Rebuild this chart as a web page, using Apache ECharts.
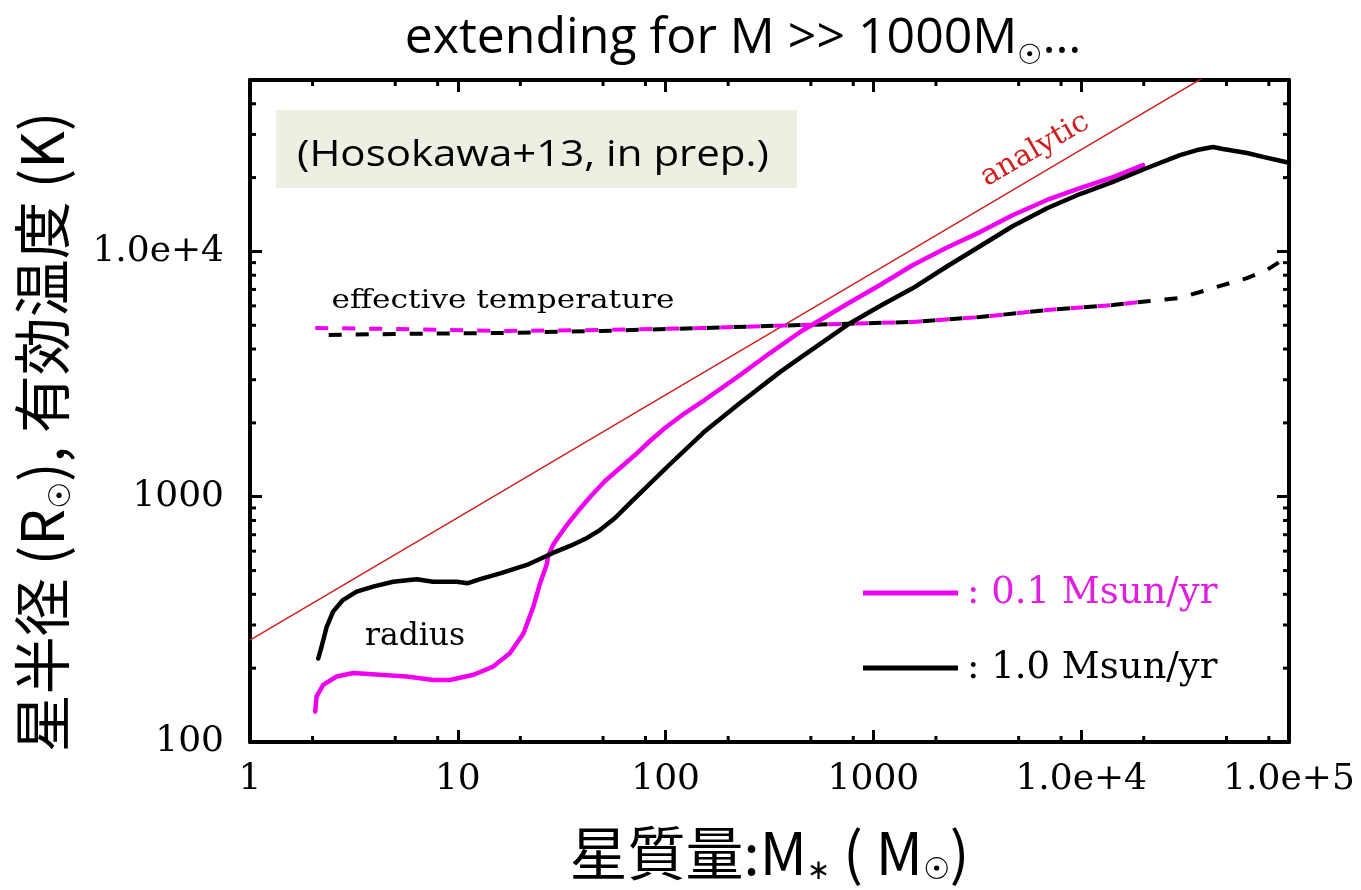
<!DOCTYPE html>
<html><head><meta charset="utf-8">
<script src="https://cdn.jsdelivr.net/npm/echarts@6/dist/echarts.min.js"></script>
<style>html,body{margin:0;padding:0;background:#fff}#c{width:1361px;height:890px}</style>
</head><body><div id="c"></div>
<script>
// ---- data ----
const analyticMass   = [1, 10, 100, 1000, 10000, 100000];
const analyticRadius = [260, 822, 2600, 8220, 26000, 82200];

const radiusMass01 = [2.06, 2.09, 2.25, 2.61, 3.14, 4.22, 5.68, 7.62, 9.17, 11.9, 14.8, 17.8, 20.7, 23.1, 24.9, 26.8, 27.2, 28.7, 30.7, 33.5, 37.9, 43.3, 51.1, 60.3, 71.2, 84.1, 99.3, 124, 154, 228, 318, 444, 747, 1076, 1551, 2236, 3258, 4696, 6845, 9867, 14220, 19830];
const radius01     = [133, 153, 171, 185, 191, 188, 185, 179, 179, 188, 203, 230, 277, 356, 444, 530, 573, 635, 692, 767, 874, 997, 1159, 1309, 1479, 1687, 1905, 2194, 2479, 3134, 3853, 4693, 6105, 7295, 8805, 10320, 11990, 14080, 16210, 18130, 20110, 22500];

const radiusMass10 = [2.13, 2.21, 2.34, 2.51, 2.80, 3.26, 3.91, 4.88, 6.34, 7.60, 9.88, 11.2, 12.8, 16.0, 21.5, 28.7, 34.7, 40.9, 48.3, 57.1, 69.7, 104, 153, 228, 355, 444, 747, 1076, 1551, 2236, 3258, 4696, 6845, 9867, 14220, 20730, 29890, 36080, 43090, 48130, 62800, 74980, 100000];
const radius10     = [219, 245, 295, 340, 379, 410, 430, 450, 461, 450, 450, 444, 461, 487, 527, 590, 630, 672, 731, 819, 969, 1347, 1835, 2410, 3220, 3680, 5010, 5991, 7090, 8640, 10500, 12700, 15000, 17140, 19200, 21880, 24700, 25900, 26650, 26150, 25200, 24300, 23000];

const teffMass01 = [2.06, 5.27, 16.0, 48.3, 146, 444, 1550, 3260, 6850, 14200, 21400];
const teff01     = [4870, 4830, 4740, 4780, 4870, 5010, 5160, 5400, 5770, 6050, 6280];

const teffMass10 = [2.06, 5.27, 16.0, 48.3, 146, 444, 1550, 3260, 6850, 14200, 21400, 29900, 43100, 62800, 78300, 100000];
const teff10     = [4560, 4610, 4650, 4740, 4870, 5010, 5160, 5400, 5770, 6050, 6280, 6460, 7090, 7790, 8400, 9600];

const xTickValues = [1, 10, 100, 1000, 10000, 100000];
const xTickLabels = ['1', '10', '100', '1000', '1.0e+4', '1.0e+5'];
const yTickValues = [100, 1000, 10000];
const yTickLabels = ['100', '1000', '1.0e+4'];
const xMinorTicks = [2, 5, 8, 20, 50, 80, 200, 500, 800, 2000, 5000, 8000, 20000, 50000, 80000];
const yMinorTicks = [200, 300, 400, 500, 600, 700, 800, 900, 2000, 3000, 4000, 5000, 6000, 7000, 8000, 9000, 20000, 30000, 40000];

const legendNames = [': 0.1 Msun/yr', ': 1.0 Msun/yr'];

// ---- helpers ----
const zip = (xs, ys) => xs.map((x, i) => [x, ys[i]]);
function tickLabel(values, labels) {
  return function (v) {
    for (let i = 0; i < values.length; i++) {
      if (Math.abs(Math.log10(v) - Math.log10(values[i])) < 1e-6) return labels[i];
    }
    return '';
  };
}
const mctx = document.createElement('canvas').getContext('2d');
function fitScale(text, size, family, target) {
  mctx.font = size + 'px "' + family + '"';
  return target / mctx.measureText(text).width;
}

const MAG = '#f000f0', RED = '#d02020';
const X_MIN = 1, X_MAX = 100000, Y_MIN = 100, Y_MAX = 50000;

function axisCommon(pos, showLabel, values, labels) {
  return {
    type: 'log', logBase: 10, position: pos,
    axisLine: { show: true, onZero: false, lineStyle: { color: '#000', width: 4 } },
    axisTick: { show: true, inside: true, length: 12, lineStyle: { color: '#000', width: 3 } },
    axisLabel: showLabel ? {
      show: true, color: '#000', fontFamily: 'DejaVu Serif', fontSize: 36,
      formatter: tickLabel(values, labels)
    } : { show: false },
    splitLine: { show: false }, minorTick: { show: false }, minorSplitLine: { show: false }
  };
}

const xBottom = Object.assign(axisCommon('bottom', true, xTickValues, xTickLabels), {
  min: X_MIN, max: X_MAX,
  name: '星質量:M{s|∗} ( M{o|☉})', nameLocation: 'middle', nameGap: 78,
  nameTextStyle: {
    fontFamily: 'Noto Sans CJK JP', fontSize: 58, color: '#000', lineHeight: 66,
    rich: {
      s: { fontFamily: 'DejaVu Sans', fontSize: 28, color: '#000', verticalAlign: 'bottom', lineHeight: 60 },
      o: { fontFamily: 'DejaVu Sans', fontSize: 30, color: '#000', verticalAlign: 'bottom', lineHeight: 62 }
    }
  }
});
xBottom.axisLabel.margin = 20;
xBottom.axisLabel.showMinLabel = true;
xBottom.axisLabel.showMaxLabel = true;
const xTop = Object.assign(axisCommon('top', false), { min: X_MIN, max: X_MAX });

const yLeft = Object.assign(axisCommon('left', true, yTickValues, yTickLabels), {
  min: Y_MIN, max: Y_MAX,
  name: '星半径 (R{o|☉}), 有効温度 (K)', nameLocation: 'middle', nameGap: 173, nameRotate: 90,
  nameTextStyle: {
    fontFamily: 'Noto Sans CJK JP', fontSize: 58, color: '#000', lineHeight: 70,
    padding: [0, 42, 0, 0],
    rich: { o: { fontFamily: 'DejaVu Sans', fontSize: 30, color: '#000', verticalAlign: 'bottom', lineHeight: 66 } }
  }
});
yLeft.axisLabel.margin = 26;
yLeft.axisLabel.showMinLabel = true;
yLeft.axisLabel.showMaxLabel = false;
const yRight = Object.assign(axisCommon('right', false), { min: Y_MIN, max: Y_MAX });

function minorX(params, api) {
  const cs = params.coordSys;
  const px = api.coord([api.value(0), Y_MIN])[0];
  const st = { stroke: '#000', lineWidth: 3 };
  return { type: 'group', children: [
    { type: 'line', shape: { x1: px, y1: cs.y + cs.height, x2: px, y2: cs.y + cs.height - 6 }, style: st },
    { type: 'line', shape: { x1: px, y1: cs.y, x2: px, y2: cs.y + 6 }, style: st }
  ] };
}
function minorY(params, api) {
  const cs = params.coordSys;
  const py = api.coord([X_MIN, api.value(1)])[1];
  const st = { stroke: '#000', lineWidth: 3 };
  return { type: 'group', children: [
    { type: 'line', shape: { x1: cs.x, y1: py, x2: cs.x + 6, y2: py }, style: st },
    { type: 'line', shape: { x1: cs.x + cs.width, y1: py, x2: cs.x + cs.width - 6, y2: py }, style: st }
  ] };
}

const DASH = [13, 14];
const option = {
  backgroundColor: '#fff',
  animation: false,
  title: {
    text: 'extending for M >> 1000M{o|☉}…',
    left: 738, top: 2, textAlign: 'center',
    textStyle: {
      fontFamily: 'Open Sans', fontSize: 50, fontWeight: 'normal', color: '#000', lineHeight: 64,
      rich: { o: { fontFamily: 'DejaVu Sans', fontSize: 28, color: '#000', verticalAlign: 'bottom', lineHeight: 60 } }
    }
  },
  grid: { left: 250, right: 72, top: 80, bottom: 148, containLabel: false, outerBoundsMode: 'none' },
  xAxis: [xBottom, xTop],
  yAxis: [yLeft, yRight],
  legend: {
    orient: 'vertical', left: 858, top: 568, itemWidth: 95, itemHeight: 5, itemGap: 35,
    icon: 'rect', selectedMode: false,
    itemStyle: { borderWidth: 0 },
    textStyle: { fontFamily: 'DejaVu Serif', fontSize: 37, lineHeight: 40, padding: [0, 0, 0, 4] },
    data: [
      { name: legendNames[0], textStyle: { color: '#e020e0' } },
      { name: legendNames[1], textStyle: { color: '#000' } }
    ]
  },
  series: [
    { type: 'line', name: 'analytic', data: zip(analyticMass, analyticRadius), symbol: 'none', silent: true,
      lineStyle: { color: RED, width: 1.5 }, itemStyle: { color: RED }, z: 2 },
    { type: 'line', name: 'Teff 1.0', data: zip(teffMass10, teff10), symbol: 'none', smooth: false, silent: true,
      lineStyle: { color: '#000', width: 4, type: DASH, dashOffset: 13.5 }, itemStyle: { color: '#000' }, z: 3 },
    { type: 'line', name: 'Teff 0.1', data: zip(teffMass01, teff01), symbol: 'none', smooth: false, silent: true,
      lineStyle: { color: MAG, width: 4, type: DASH, dashOffset: 0 }, itemStyle: { color: MAG }, z: 3 },
    { type: 'line', name: legendNames[0], data: zip(radiusMass01, radius01), symbol: 'none', smooth: false, silent: true,
      lineStyle: { color: MAG, width: 4.5, join: 'round', cap: 'round' }, itemStyle: { color: MAG }, z: 4 },
    { type: 'line', name: legendNames[1], data: zip(radiusMass10, radius10), symbol: 'none', smooth: false, silent: true,
      lineStyle: { color: '#000', width: 4.5, join: 'round', cap: 'round' }, itemStyle: { color: '#000' }, z: 5 },
    { type: 'custom', name: 'xMinor', data: xMinorTicks.map(v => [v, Y_MIN]), renderItem: minorX, silent: true, clip: false, z: 6 },
    { type: 'custom', name: 'yMinor', data: yMinorTicks.map(v => [X_MIN, v]), renderItem: minorY, silent: true, clip: false, z: 6 }
  ],
  graphic: [
    { type: 'rect', shape: { x: 276, y: 110, width: 521, height: 78 }, style: { fill: '#edefe3' }, z: 1 },
    { type: 'text', x: 533, y: 155, scaleX: fitScale('(Hosokawa+13, in prep.)', 37, 'Open Sans', 472), z: 2,
      style: { text: '(Hosokawa+13, in prep.)', fontFamily: 'Open Sans', fontSize: 37, fill: '#000', align: 'center', verticalAlign: 'middle', textAlign: 'center', textVerticalAlign: 'middle' } },
    { type: 'text', x: 503, y: 301, scaleX: fitScale('effective temperature', 26, 'DejaVu Serif', 343), z: 2,
      style: { text: 'effective temperature', fontFamily: 'DejaVu Serif', fontSize: 26, fill: '#000', align: 'center', verticalAlign: 'middle', textAlign: 'center', textVerticalAlign: 'middle' } },
    { type: 'text', x: 415, y: 637, scaleX: fitScale('radius', 32, 'DejaVu Serif', 100), z: 2,
      style: { text: 'radius', fontFamily: 'DejaVu Serif', fontSize: 32, fill: '#000', align: 'center', verticalAlign: 'middle', textAlign: 'center', textVerticalAlign: 'middle' } },
    { type: 'text', x: 1035, y: 150, rotation: Math.PI * 30 / 180, scaleX: fitScale('analytic', 29, 'DejaVu Serif', 120), z: 2,
      style: { text: 'analytic', fontFamily: 'DejaVu Serif', fontSize: 29, fill: RED, align: 'center', verticalAlign: 'middle', textAlign: 'center', textVerticalAlign: 'middle' } }
  ]
};

const chart = echarts.init(document.getElementById('c'), null, { renderer: 'canvas' });
chart.setOption(option);
</script>
</body></html>
